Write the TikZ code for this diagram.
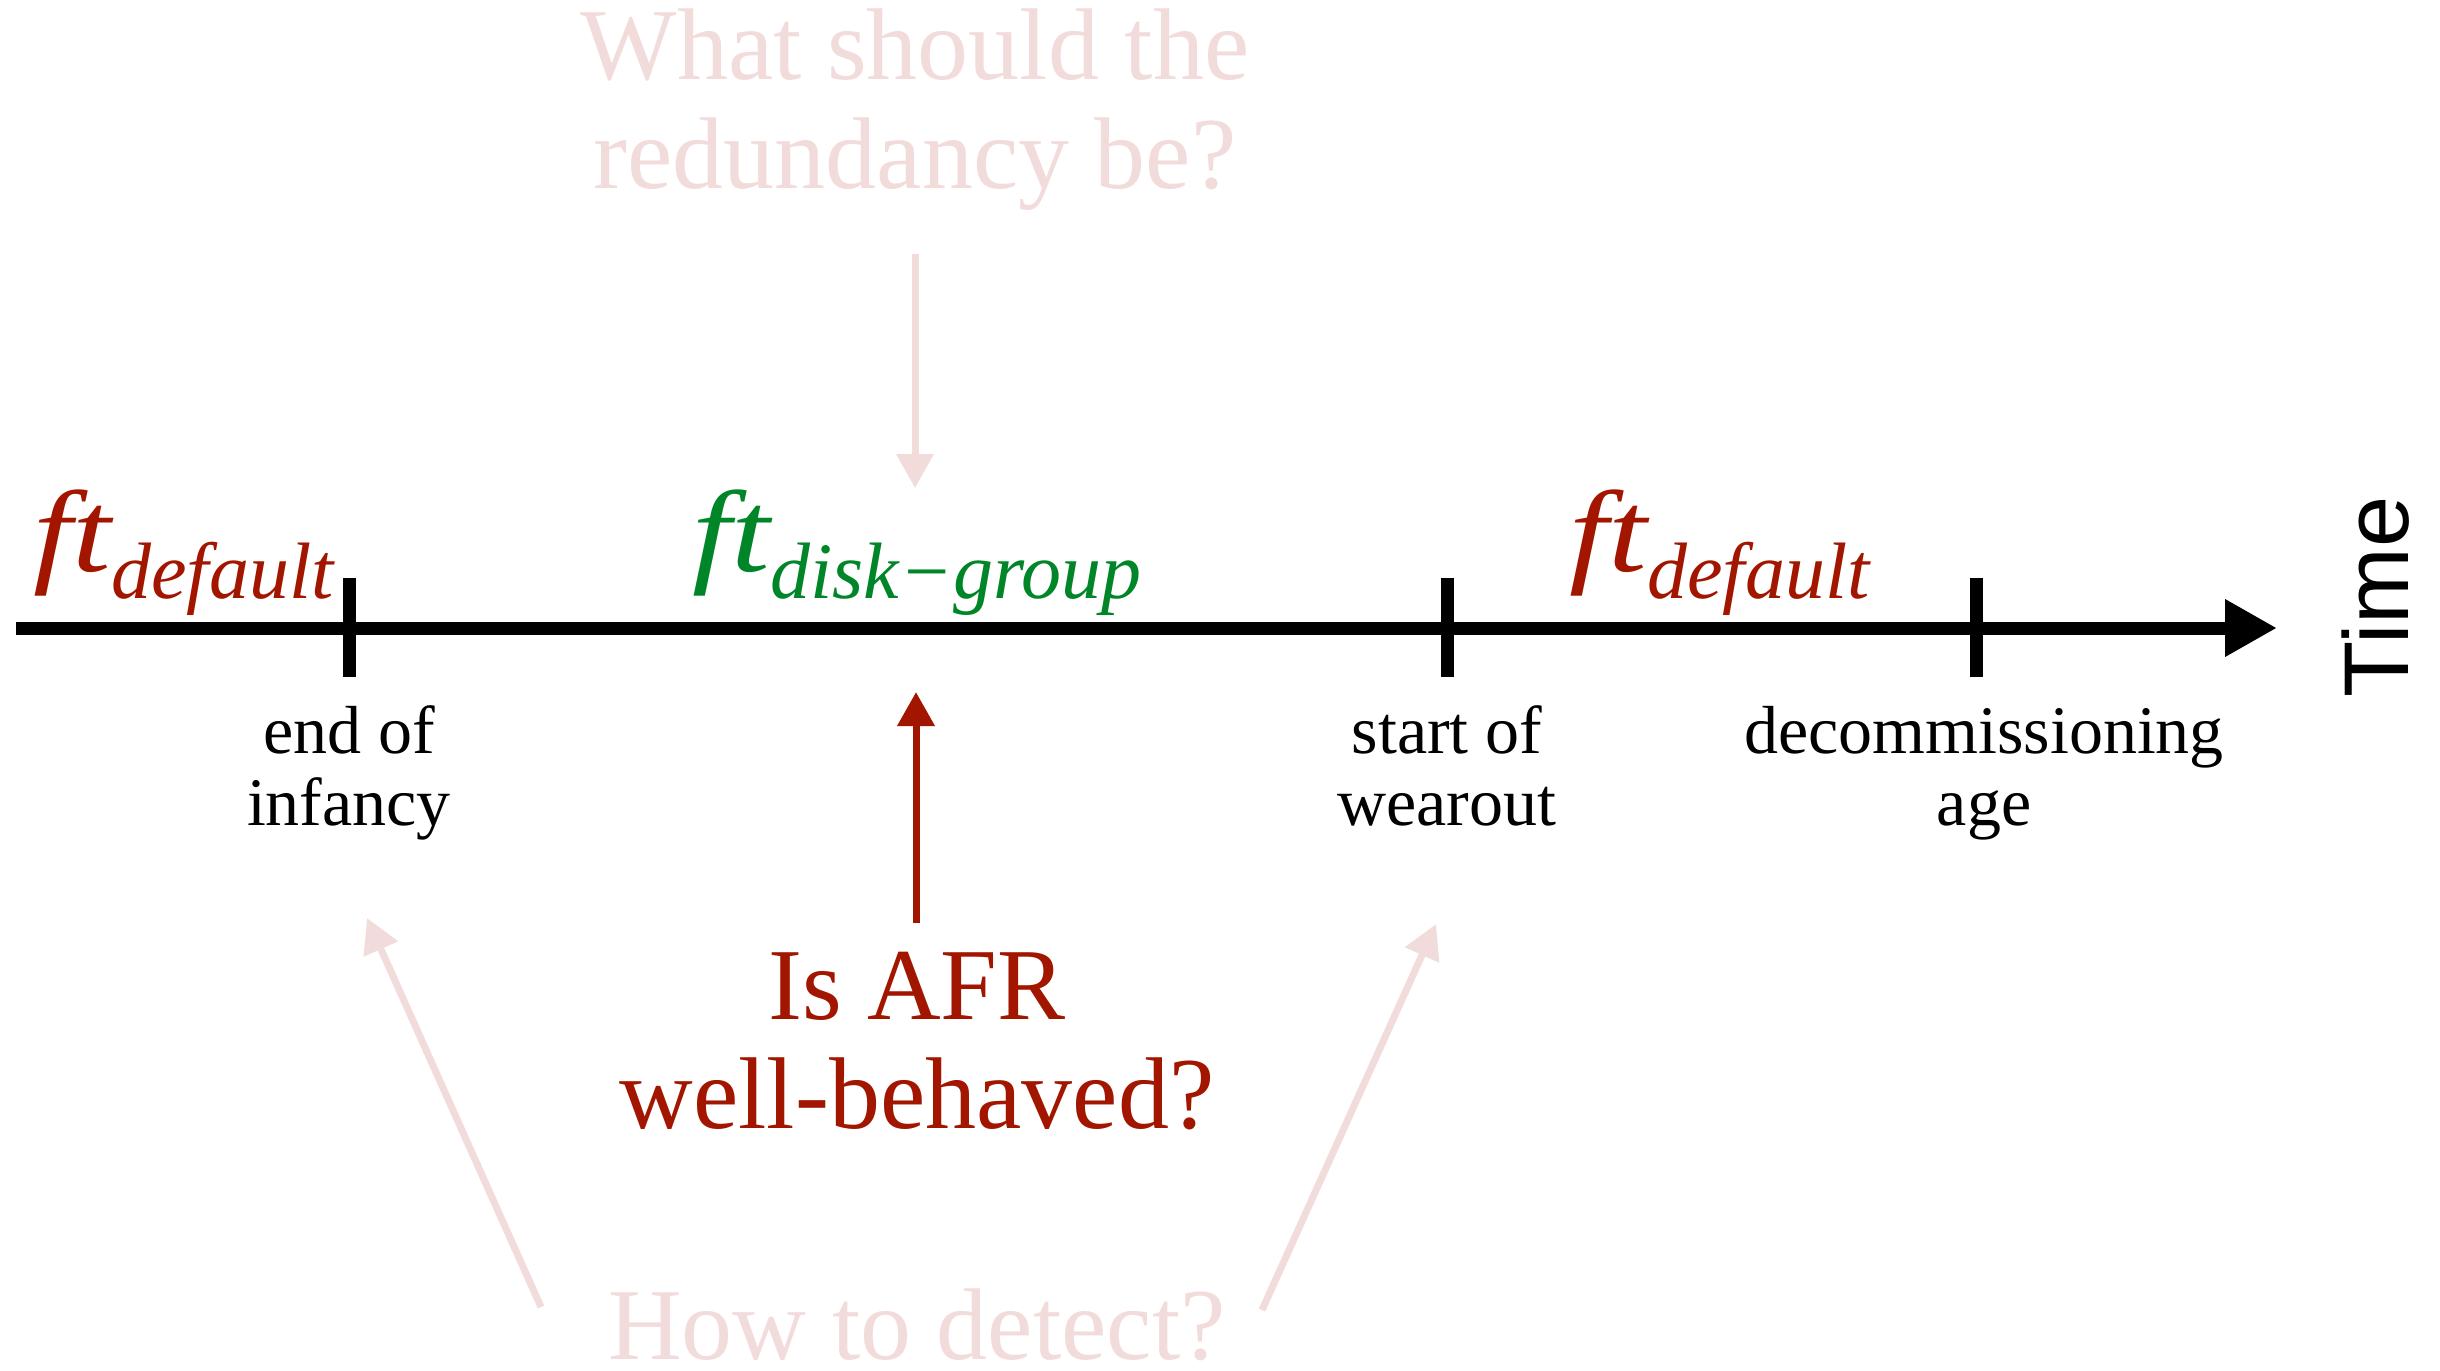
\documentclass[tikz,border=0pt]{standalone}
\usepackage{fontspec}
\usepackage{graphicx}
\setmainfont{Liberation Serif}
\newfontfamily\timefont{Liberation Sans}
\usetikzlibrary{arrows.meta}
\definecolor{ftred}{RGB}{162,22,0}
\definecolor{ftgreen}{RGB}{0,134,40}
\definecolor{paleq}{RGB}{242,220,219}
% "ft" head and lowered subscript for the fault-tolerance labels
\newcommand\fthead{\makebox[39pt][l]{\scalebox{1.2}[1]{\fontsize{58}{58}\selectfont ft}}}
\newcommand\ftsub[1]{\raisebox{-13.5pt}{\fontsize{40}{40}\selectfont #1}}

\begin{document}
\begin{tikzpicture}[x=0.5pt,y=-0.5pt,
  bigq/.style={font=\fontsize{51}{54.5}\selectfont, align=center, inner sep=0pt, anchor=base},
  marklabel/.style={font=\fontsize{34}{36}\selectfont, align=center, inner sep=0pt, anchor=base},
  ftlabel/.style={font=\itshape, inner sep=0pt, anchor=base west},
  tickmark/.style={line width=6.5pt},
  pointer/.style={line width=3.5pt, -{Triangle[length=17pt,width=18pt]}},
]
\useasboundingbox (0,0) rectangle (2440,1370);

% time axis
\coordinate (axstart) at (16,628);
\coordinate (axend) at (2277,628);
\draw[line width=6.5pt, -{Triangle[length=26pt,width=27pt]}] (axstart) -- (axend);

% tick marks
\coordinate (t1top) at (349,578);  \coordinate (t1bot) at (349,677);
\coordinate (t2top) at (1447,578); \coordinate (t2bot) at (1447,677);
\coordinate (t3top) at (1976,578); \coordinate (t3bot) at (1976,677);
\draw[tickmark] (t1top) -- (t1bot);
\draw[tickmark] (t2top) -- (t2bot);
\draw[tickmark] (t3top) -- (t3bot);

% axis label
\node[font=\timefont\fontsize{46}{46}\selectfont, rotate=90, anchor=base, inner sep=0pt] (timelbl) at (2408,597) {Time};

% phase labels
\node[ftlabel, text=ftred] (ftleft) at (33,571) {\fthead\ftsub{default}};
\node[ftlabel, text=ftgreen] (ftmid) at (692,571) {\fthead\ftsub{disk−group}};
\node[ftlabel, text=ftred] (ftright) at (1569,571) {\fthead\ftsub{default}};

% tick labels (anchored on the last line's baseline)
\node[marklabel] (infancy) at (349,825) {end of\\infancy};
\node[marklabel] (wearout) at (1447,825) {start of\\wearout};
\node[marklabel] (decomm) at (1984,825) {decommissioning\\age};

% questions
\node[bigq, text=paleq] (redq) at (915,188) {What should the\\redundancy be?};
\node[bigq, text=ftred] (afrq) at (917,1128) {Is AFR\\well-behaved?};
\node[bigq, text=paleq, text depth=0pt] (detq) at (917,1359) {How to detect?};

% pointers
\coordinate (redtail) at (915,254);  \coordinate (redtip) at (915,488);
\coordinate (afrtail) at (916,923);  \coordinate (afrtip) at (916,692);
\coordinate (detltail) at (541,1307); \coordinate (detltip) at (367,918);
\coordinate (detrtail) at (1262,1310); \coordinate (detrtip) at (1436,924);
\draw[pointer, paleq] (redtail) -- (redtip);
\draw[pointer, ftred] (afrtail) -- (afrtip);
\draw[pointer, paleq] (detltail) -- (detltip);
\draw[pointer, paleq] (detrtail) -- (detrtip);
\end{tikzpicture}
\end{document}
